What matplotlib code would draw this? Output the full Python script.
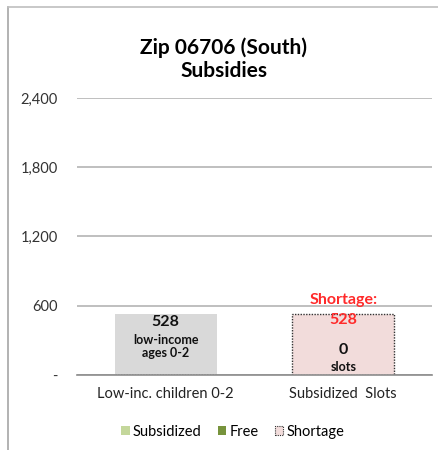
import numpy as np
import matplotlib.pyplot as plt
from matplotlib.lines import Line2D
from matplotlib.patches import Patch

plt.rcParams['font.family'] = ['Lato', 'DejaVu Sans']

# Datos del grafico
categories = ['Low-inc. children 0-2', 'Subsidized  Slots']
children = [528, 0]
subsidized = [0, 0]
free = [0, 0]
shortage = [0, 528]
slots_total = 0
yticks = [0, 600, 1200, 1800, 2400]
ytick_labels = ['-', '600', '1,200', '1,800', '2,400']

fig = plt.figure(figsize=(4.39, 4.5), dpi=100)
ax = fig.add_axes([0.1754, 0.1667, 0.8086, 0.6155])

x = np.arange(len(categories))
w = 0.575

# barras
ax.bar(x, children, width=w, color='#d9d9d9', zorder=2)
ax.bar(x, subsidized, width=w, color='#c4d79b', zorder=2)
ax.bar(x, free, width=w, bottom=subsidized, color='#77933c', zorder=2)
base = np.array(subsidized) + np.array(free)
ax.bar(x, shortage, width=w, bottom=base, color='#f2dcdb', edgecolor='#333333',
       linestyle=(0, (1, 1)), linewidth=1.0, zorder=2)

ax.set_xlim(-0.5, 1.5)
ax.set_ylim(0, 2400)
ax.set_yticks(yticks)
ax.set_yticklabels(ytick_labels, fontsize=10.5, color='#333333')
ax.set_xticks(x)
ax.set_xticklabels(categories, fontsize=10.5, color='#222222')
ax.tick_params(axis='y', length=0, pad=14)
ax.tick_params(axis='x', length=0, pad=9)
ax.grid(axis='y', color='#bfbfbf', linewidth=1.4, zorder=0)
for s in ['top', 'right', 'left']:
    ax.spines[s].set_visible(False)
ax.spines['bottom'].set_color('#8c8c8c')
ax.spines['bottom'].set_linewidth(1.2)

# etiquetas dentro de barras
ax.text(x[0], children[0] - 70, f'{children[0]}', ha='center', va='center',
        fontsize=11.5, fontweight='bold', color='#111111', zorder=3)
ax.text(x[0], children[0] - 225, 'low-income', ha='center', va='center',
        fontsize=9, fontweight='bold', color='#111111', zorder=3)
ax.text(x[0], children[0] - 340, 'ages 0-2', ha='center', va='center',
        fontsize=9, fontweight='bold', color='#111111', zorder=3)

ax.text(x[1], shortage[1] + 120, 'Shortage:', ha='center', va='center',
        fontsize=11.5, fontweight='bold', color='#ff2a2a', zorder=3)
ax.text(x[1], shortage[1] - 50, f'{shortage[1]}', ha='center', va='center',
        fontsize=11.5, fontweight='bold', color='#ff2a2a', zorder=3)
ax.text(x[1], 215, f'{slots_total}', ha='center', va='center',
        fontsize=11.5, fontweight='bold', color='#111111', zorder=3)
ax.text(x[1], 70, 'slots', ha='center', va='center',
        fontsize=9, fontweight='bold', color='#111111', zorder=3)

# titulo
fig.text(0.51, 0.868, 'Zip 06706 (South)\nSubsidies', ha='center', va='center',
         fontsize=15, fontweight='bold', color='#000000', linespacing=1.2)

# leyenda
handles = [Patch(facecolor='#c4d79b', edgecolor='none', label='Subsidized'),
           Patch(facecolor='#77933c', edgecolor='none', label='Free'),
           Patch(facecolor='#f2dcdb', edgecolor='#333333', linestyle=(0, (1, 1)),
                 linewidth=0.8, label='Shortage')]
fig.legend(handles=handles, loc='center', bbox_to_anchor=(0.53, 0.04), ncol=3,
           frameon=False, fontsize=10.5, handlelength=0.6, handleheight=0.6,
           handletextpad=0.2, columnspacing=1.1)

# marco
fig.add_artist(Line2D([8/439, 8/439], [0, 1 - 7/450], color='#a6a6a6', linewidth=1.2))
fig.add_artist(Line2D([8/439, 1], [1 - 7/450, 1 - 7/450], color='#bfbfbf', linewidth=1.2))

fig.savefig('out.png', dpi=100)
